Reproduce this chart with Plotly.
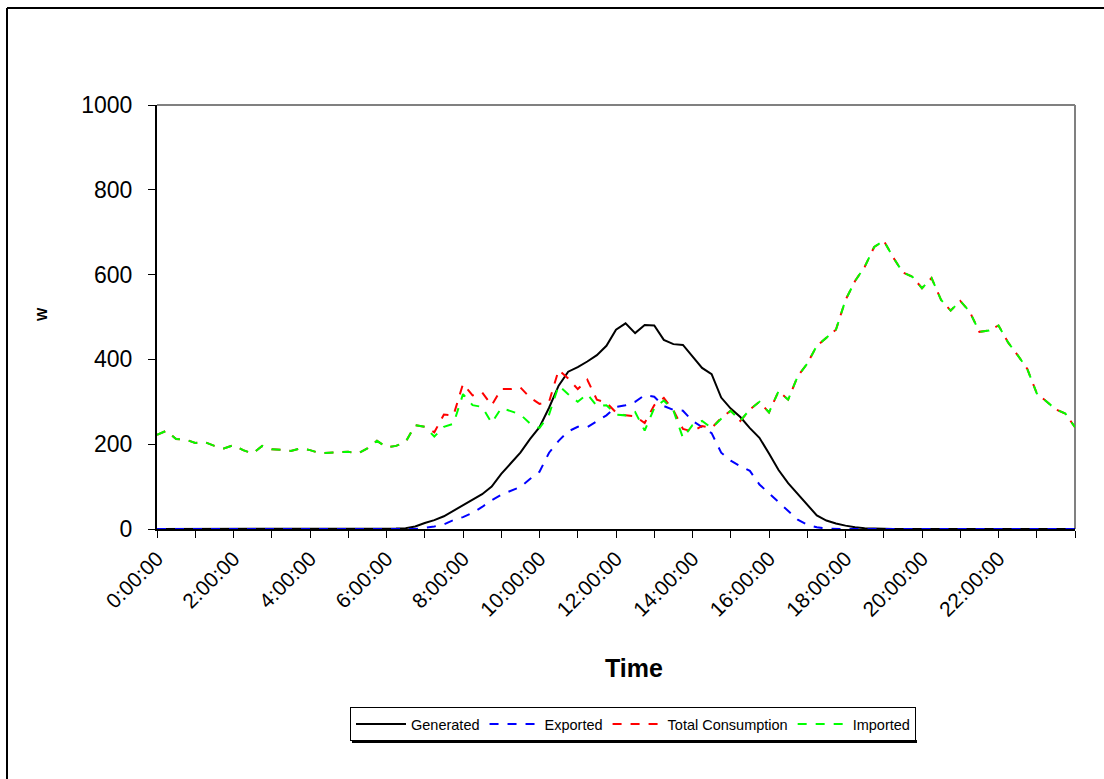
import plotly.graph_objects as go

# 15-minute samples, 0:00 .. 24:00 (hours)
time_hours = [i * 0.25 for i in range(97)]

generated = [
    0, 0, 0, 0, 0, 0, 0, 0, 0, 0, 0, 0,            # 0:00-2:45
    0, 0, 0, 0, 0, 0, 0, 0, 0, 0, 0, 0,            # 3:00-5:45
    0, 1, 2, 6, 14, 21, 30, 43, 54, 67, 82, 100,   # 6:00-8:45
    130, 155, 180, 212, 240, 286, 338, 371, 382, 395, 410, 432,  # 9:00-11:45
    470, 485, 462, 481, 480, 446, 436, 434, 406, 380, 365, 310,  # 12:00-14:45
    284, 264, 238, 215, 178, 139, 108, 83, 56, 32, 20, 13,       # 15:00-17:45
    8, 4, 2, 1, 0, 0, 0, 0, 0, 0, 0, 0,            # 18:00-20:45
    0, 0, 0, 0, 0, 0, 0, 0, 0, 0, 0, 0,            # 21:00-23:45
    0,
]

exported = [
    0, 0, 0, 0, 0, 0, 0, 0, 0, 0, 0, 0,
    0, 0, 0, 0, 0, 0, 0, 0, 0, 0, 0, 0,
    0, 0, 0, 0, 3, 6, 11, 21, 28, 38, 52, 68,
    81, 90, 99, 118, 135, 180, 208, 230, 241, 240, 255, 268,
    288, 292, 300, 316, 312, 290, 281, 279, 255, 240, 226, 180,
    161, 148, 137, 105, 84, 64, 41, 22, 10, 4, 1, 0,
    0, 0, 0, 0, 0, 0, 0, 0, 0, 0, 0, 0,
    0, 0, 0, 0, 0, 0, 0, 0, 0, 0, 0, 0,
    0,
]

total_consumption = [
    222, 232, 212, 211, 203, 205, 196, 190, 198, 186, 178, 196,
    188, 187, 184, 190, 186, 179, 180, 181, 182, 178, 190, 208,
    193, 196, 205, 245, 241, 228, 270, 268, 342, 315, 322, 292,
    330, 330, 334, 310, 295, 300, 375, 355, 330, 352, 305, 298,
    275, 268, 266, 250, 292, 309, 280, 236, 230, 243, 238, 262,
    279, 255, 282, 300, 275, 325, 305, 360, 390, 432, 452, 470,
    540, 585, 618, 665, 680, 640, 605, 595, 568, 592, 540, 515,
    538, 512, 465, 468, 480, 440, 410, 378, 320, 300, 282, 272,
    240,
]

imported = [
    222, 232, 212, 211, 203, 205, 196, 190, 198, 186, 178, 196,
    188, 187, 184, 190, 186, 179, 180, 181, 182, 178, 190, 208,
    193, 196, 205, 245, 241, 218, 241, 248, 318, 292, 288, 250,
    285, 278, 270, 249, 238, 270, 338, 318, 300, 318, 290, 292,
    270, 268, 276, 232, 285, 303, 280, 215, 245, 255, 238, 260,
    279, 255, 282, 300, 275, 325, 305, 360, 390, 432, 452, 470,
    540, 585, 618, 665, 680, 640, 605, 595, 568, 592, 540, 515,
    538, 512, 465, 468, 480, 440, 410, 378, 320, 300, 282, 272,
    240,
]

tick_hours = list(range(25))
tick_labels = ["0:00:00", "", "2:00:00", "", "4:00:00", "", "6:00:00", "",
               "8:00:00", "", "10:00:00", "", "12:00:00", "", "14:00:00", "",
               "16:00:00", "", "18:00:00", "", "20:00:00", "", "22:00:00", "", ""]
y_ticks = [0, 200, 400, 600, 800, 1000]

FONT = "Liberation Sans, Arial, sans-serif"

fig = go.Figure()
fig.add_trace(go.Scatter(x=time_hours, y=generated, name="Generated", mode="lines",
                         line=dict(color="#000000", width=2)))
fig.add_trace(go.Scatter(x=time_hours, y=exported, name="Exported", mode="lines",
                         line=dict(color="#0000FF", width=2, dash="dash")))
fig.add_trace(go.Scatter(x=time_hours, y=total_consumption, name="Total Consumption", mode="lines",
                         line=dict(color="#FF0000", width=2, dash="dash")))
fig.add_trace(go.Scatter(x=time_hours, y=imported, name="Imported", mode="lines",
                         line=dict(color="#00FF00", width=2, dash="dash")))

# plot area: x 157..1075 px, y 105..529 px
L, R, T, B = 157, 1075, 105, 529
W_, H_ = R - L, B - T
def px(x):
    return (x - L) / W_
def py(y):
    return (B - y) / H_

fig.update_layout(
    width=1104, height=779,
    margin=dict(l=L, r=1104 - R, t=T, b=779 - B),
    paper_bgcolor="white", plot_bgcolor="white",
    font=dict(family=FONT, color="#000000"),
    showlegend=True,
    legend=dict(orientation="h", x=px(350), xanchor="left", y=py(707), yanchor="top",
                bordercolor="#000000", borderwidth=1, bgcolor="white",
                font=dict(size=14.5, family=FONT), itemwidth=50, tracegroupgap=0),
    xaxis=dict(range=[0, 24], tickmode="array", tickvals=tick_hours, ticktext=tick_labels,
               tickangle=-45, ticks="outside", ticklen=7, tickwidth=1, tickcolor="#000000",
               showline=True, linecolor="#000000", linewidth=2, showgrid=False, zeroline=False,
               tickfont=dict(size=21, family=FONT)),
    yaxis=dict(range=[0, 1000], tickmode="array", tickvals=y_ticks,
               ticks="outside", ticklen=7, tickwidth=1, tickcolor="#000000",
               ticklabelstandoff=11,
               showline=True, linecolor="#000000", linewidth=2, showgrid=False, zeroline=False,
               tickfont=dict(size=23, family=FONT)),
    annotations=[
        dict(text="<b>Time</b>", x=px(634), y=py(668), xref="paper", yref="paper",
             showarrow=False, font=dict(size=25, family=FONT), xanchor="center", yanchor="middle"),
        dict(text="<b>W</b>", x=px(42), y=py(314), xref="paper", yref="paper",
             showarrow=False, font=dict(size=14, family=FONT), textangle=-90,
             xanchor="center", yanchor="middle"),
    ],
    shapes=[
        # gray top/right border of the plot area
        dict(type="line", xref="paper", yref="paper", x0=0, x1=1, y0=1, y1=1,
             line=dict(color="#808080", width=2), layer="below"),
        dict(type="line", xref="paper", yref="paper", x0=1, x1=1, y0=0, y1=1,
             line=dict(color="#808080", width=2), layer="below"),
        # outer chart border (left and top)
        dict(type="line", xref="paper", yref="paper", x0=px(7), x1=px(7), y0=py(8), y1=py(779),
             line=dict(color="#000000", width=2)),
        dict(type="line", xref="paper", yref="paper", x0=px(7), x1=px(1104), y0=py(8), y1=py(8),
             line=dict(color="#000000", width=2)),
        # legend drop shadow (bottom edge)
        dict(type="line", xref="paper", yref="paper", x0=px(352), x1=px(917), y0=py(741.5), y1=py(741.5),
             line=dict(color="#000000", width=3)),
    ],
)

fig.write_html("out.html", config={"displayModeBar": False},
               post_script="document.body.style.margin='0';document.documentElement.style.margin='0';")
